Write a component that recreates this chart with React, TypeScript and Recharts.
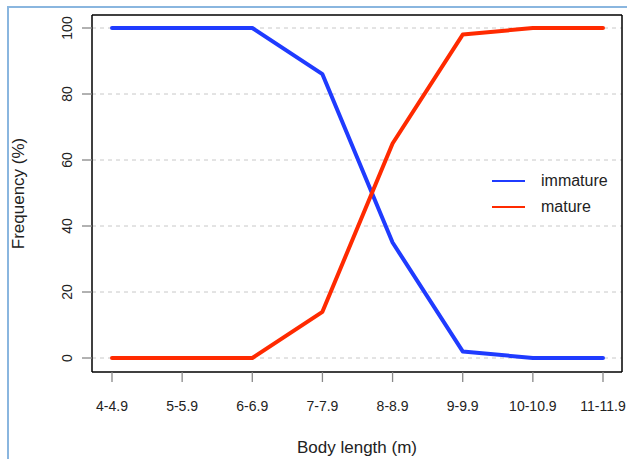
import React from "react";
import { LineChart, Line, XAxis, YAxis, ReferenceLine } from "recharts";

const categories = ["4-4.9", "5-5.9", "6-6.9", "7-7.9", "8-8.9", "9-9.9", "10-10.9", "11-11.9"];
const immature = [100, 100, 100, 86, 35, 2, 0, 0];
const mature = [0, 0, 0, 14, 65, 98, 100, 100];
const yTicks = [0, 20, 40, 60, 80, 100];
const seriesNames = ["immature", "mature"];

const data = categories.map((c, i) => ({ cat: c, immature: immature[i], mature: mature[i] }));

const FONT = "'Liberation Sans', Arial, sans-serif";
const BLUE = "#1f3bff";
const RED = "#ff2a00";
const colors = [BLUE, RED];

const YTick = (props: any) => {
  const { x, y, payload } = props;
  return (
    <text
      x={x}
      y={y}
      transform={`rotate(-90, ${x}, ${y})`}
      textAnchor="middle"
      dominantBaseline="central"
      fontSize={14}
      fontFamily={FONT}
      fill="#222"
    >
      {payload.value}
    </text>
  );
};

const LegendBox = () => (
  <div style={{ position: "absolute", left: 490, top: 168, fontFamily: FONT, fontSize: 16, color: "#222" }}>
    {seriesNames.map((name, i) => (
      <div key={name} style={{ display: "flex", alignItems: "center", height: 26 }}>
        <svg width={36} height={6} style={{ marginRight: 15 }}>
          <line x1={2} y1={3} x2={35} y2={3} stroke={colors[i]} strokeWidth={2} />
        </svg>
        <span>{name}</span>
      </div>
    ))}
  </div>
);

export default function App() {
  return (
    <div style={{ position: "absolute", left: 0, top: 0, width: 627, height: 459, background: "#fff" }}>
      <div
        style={{
          position: "absolute",
          left: 7,
          top: 6,
          right: 0,
          bottom: 0,
          borderLeft: "2px solid #8ab6df",
          borderTop: "2px solid #8ab6df",
        }}
      />
      <div style={{ position: "absolute", left: 0, top: 0 }}>
        <LineChart width={627} height={459} data={data} margin={{ top: 14, right: 4, bottom: 0, left: 0 }}>
          <XAxis
            dataKey="cat"
            type="category"
            padding={{ left: 20, right: 19 }}
            height={87}
            axisLine={{ stroke: "#000", strokeWidth: 1.5 }}
            tickLine={{ stroke: "#888", strokeWidth: 1.3 }}
            tickSize={10}
            tickMargin={19}
            interval={0}
            tick={{ fontSize: 14, fill: "#222", fontFamily: FONT }}
            label={{
              value: "Body length (m)",
              position: "insideBottom",
              offset: 6,
              fontSize: 17,
              fill: "#222",
              fontFamily: FONT,
            }}
          />
          <XAxis
            xAxisId="top"
            dataKey="cat"
            orientation="top"
            height={1}
            tick={false}
            tickLine={false}
            axisLine={{ stroke: "#000", strokeWidth: 1.5 }}
          />
          <YAxis
            type="number"
            domain={[-4.24, 103.94]}
            ticks={yTicks}
            allowDataOverflow
            width={92}
            axisLine={{ stroke: "#000", strokeWidth: 1.5 }}
            tickLine={{ stroke: "#888", strokeWidth: 1.3 }}
            tickSize={10}
            tickMargin={15}
            tick={<YTick />}
            label={{
              content: (p: any) => {
                const vb = p.viewBox;
                const cx = vb.x + 18;
                const cy = vb.y + vb.height / 2;
                return (
                  <text
                    x={cx}
                    y={cy}
                    transform={`rotate(-90, ${cx}, ${cy})`}
                    textAnchor="middle"
                    dominantBaseline="central"
                    fontSize={17}
                    fontFamily={FONT}
                    fill="#222"
                  >
                    Frequency (%)
                  </text>
                );
              },
            }}
          />
          <YAxis
            yAxisId="right"
            orientation="right"
            width={1}
            domain={[-4.24, 103.94]}
            tick={false}
            tickLine={false}
            axisLine={{ stroke: "#000", strokeWidth: 1.5 }}
          />
          {yTicks.map((t) => (
            <ReferenceLine key={"g" + t} y={t} stroke="#c8c8c8" strokeDasharray="4 4" strokeWidth={1} />
          ))}
          <Line
            dataKey="immature"
            stroke={BLUE}
            strokeWidth={4}
            dot={false}
            strokeLinecap="round"
            strokeLinejoin="round"
            isAnimationActive={false}
          />
          <Line
            dataKey="mature"
            stroke={RED}
            strokeWidth={4}
            dot={false}
            strokeLinecap="round"
            strokeLinejoin="round"
            isAnimationActive={false}
          />
        </LineChart>
      </div>
      <LegendBox />
    </div>
  );
}
